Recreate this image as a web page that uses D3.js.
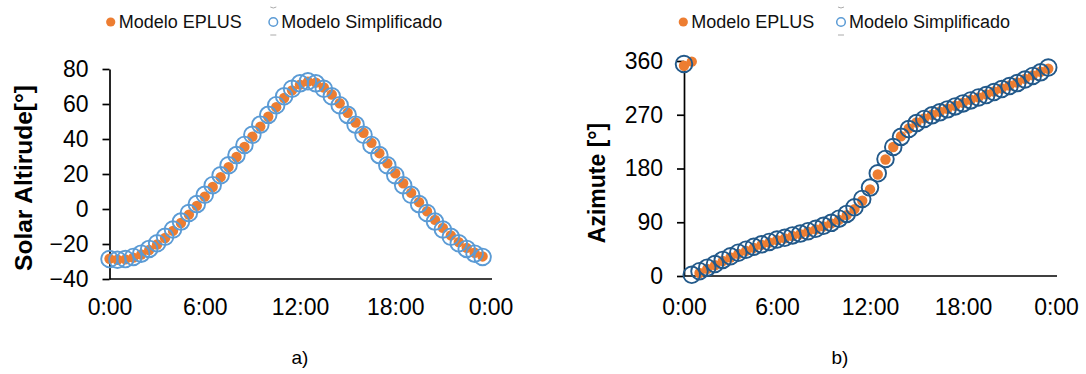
<!DOCTYPE html>
<html>
<head>
<meta charset="utf-8">
<script src="https://cdn.jsdelivr.net/npm/d3@7/dist/d3.min.js"></script>
<style>
    body { margin: 0; background: #fff; }
    svg { display: block; font-family: "Liberation Sans", Arial, sans-serif; }
</style>
</head>
<body>
<svg id="chart" width="1086" height="374"></svg>
<script>
// time of day (hours) for every sample
const hours = [0, 0.5, 1, 1.5, 2, 2.5, 3, 3.5, 4, 4.5, 5, 5.5, 6, 6.5, 7, 7.5, 8, 8.5, 9, 9.5, 10, 10.5, 11, 11.5,
    12, 12.5, 13, 13.5, 14, 14.5, 15, 15.5, 16, 16.5, 17, 17.5, 18, 18.5, 19, 19.5, 20, 20.5, 21, 21.5, 22, 22.5, 23, 23.5];

// a) solar altitude [deg]
const altEplus = [-28.4, -29.0, -28.8, -27.8, -26.0, -23.4, -20.3, -16.6, -12.5, -8.0, -3.2, 1.8, 7.1, 12.6, 18.2, 23.9,
    29.7, 35.5, 41.3, 47.1, 52.7, 58.2, 63.4, 67.8, 71.1, 72.8, 72.2, 69.4, 65.4, 60.4, 55.0, 49.4,
    43.6, 37.8, 31.9, 26.1, 20.4, 14.7, 9.2, 3.9, -1.3, -6.2, -10.8, -15.1, -18.9, -22.2, -25.0, -27.1];
const altSimpl = [-28.6, -29.0, -28.6, -27.4, -25.5, -22.8, -19.6, -15.9, -11.7, -7.2, -2.3, 2.8, 8.1, 13.6, 19.3, 25.0,
    30.8, 36.6, 42.4, 48.2, 53.8, 59.3, 64.4, 68.7, 71.8, 73.0, 71.8, 68.7, 64.4, 59.3, 53.8, 48.2,
    42.4, 36.6, 30.8, 25.0, 19.3, 13.6, 8.1, 2.8, -2.3, -7.2, -11.7, -15.9, -19.6, -22.8, -25.5, -27.4];

// b) azimuth [deg]
const azEplus = [352, 359, 5, 12, 18, 25, 31, 37, 42, 47, 52, 56, 60, 63, 67, 70,
    74, 78, 83, 88, 94, 102, 112, 126, 145, 170, 195, 216, 234, 247, 257, 264,
    270, 275, 280, 285, 290, 295, 299, 304, 309, 314, 319, 324, 330, 336, 342, 347];
const azSimpl = [355, 2, 8, 14, 20, 27, 33, 39, 44, 49, 53, 57, 61, 64, 68, 71,
    75, 79, 84, 89, 96, 104, 115, 129, 148, 172, 196, 216, 233, 246, 256, 263,
    269, 274, 279, 284, 289, 294, 299, 303, 308, 313, 318, 323, 329, 335, 341, 349];

const seriesNames = ['Modelo EPLUS', 'Modelo Simplificado'];
const xTicks = [0, 6, 12, 18, 24];
const altTicks = [-40, -20, 0, 20, 40, 60, 80];
const azTicks = [0, 90, 180, 270, 360];

const orange = '#ED7D31';
const lightBlue = '#5B9BD5';
const darkBlue = '#22598A';

const svg = d3.select('#chart');

function drawPanel(opts) {
    const g = svg.append('g');

    const x = d3.scaleLinear().domain([0, 24]).range(opts.xRange);
    const y = d3.scaleLinear().domain(opts.yDomain).range(opts.yRange);

    // y axis with outside ticks
    const yAxis = g.append('g')
        .attr('transform', `translate(${opts.xRange[0]},0)`)
        .call(d3.axisLeft(y).tickValues(opts.yTicks).tickSize(7).tickSizeOuter(0).tickPadding(14));

    // x axis, no tick marks
    const xAxis = g.append('g')
        .attr('transform', `translate(0,${opts.yRange[0]})`)
        .call(d3.axisBottom(x).tickValues(xTicks).tickSize(0).tickSizeOuter(0).tickPadding(opts.xPad)
            .tickFormat(h => (h % 24) + ':00'));

    xAxis.select('.domain').attr('d', `M${opts.xRange[0]},0H${opts.xEnd}`);

    [yAxis, xAxis].forEach(a => {
        a.select('.domain').attr('stroke', '#000').attr('stroke-width', 1.7);
        a.selectAll('line').attr('stroke', '#000').attr('stroke-width', 1.7);
        a.selectAll('text').attr('fill', '#000').style('font-size', '23px')
            .style('font-family', '"Liberation Sans", Arial, sans-serif');
    });

    // series 1 - filled orange dots
    g.append('g').selectAll('circle')
        .data(opts.eplus)
        .join('circle')
        .attr('cx', (d, i) => x(hours[i]))
        .attr('cy', d => y(d))
        .attr('r', 5.2)
        .attr('fill', orange);

    // series 2 - hollow circles on top
    g.append('g').selectAll('circle')
        .data(opts.simpl)
        .join('circle')
        .attr('cx', (d, i) => x(hours[i]))
        .attr('cy', d => y(d))
        .attr('r', 8.3)
        .attr('fill', 'none')
        .attr('stroke', opts.ringColor)
        .attr('stroke-width', 1.9);

    // axis title
    g.append('text')
        .attr('transform', `translate(${opts.titleX},${opts.titleY}) rotate(-90)`)
        .attr('text-anchor', 'middle')
        .style('font-size', opts.titleSize)
        .style('font-weight', 'bold')
        .attr('fill', '#000')
        .text(opts.title);

    // legend
    const lg = g.append('g').attr('transform', `translate(${opts.legendX},22)`);
    lg.append('circle').attr('cx', 0).attr('cy', 0).attr('r', 4.6).attr('fill', orange);
    lg.append('text').attr('x', 8).attr('y', 6.3).style('font-size', '18px').attr('fill', '#111').text(seriesNames[0]);
    lg.append('circle').attr('cx', opts.legendGap).attr('cy', 0).attr('r', 4.3)
        .attr('fill', 'none').attr('stroke', lightBlue).attr('stroke-width', 1.5);
    // little grey marks above / below the ring marker
    lg.append('path').attr('d', `M${opts.legendGap - 3},-15 q3,2 6,0 M${opts.legendGap - 3},13 h6`)
        .attr('fill', 'none').attr('stroke', '#aaa').attr('stroke-width', 1);
    lg.append('text').attr('x', opts.legendGap + 8).attr('y', 6.3).style('font-size', '18px').attr('fill', '#111').text(seriesNames[1]);

    // caption
    g.append('text')
        .attr('x', opts.captionX)
        .attr('y', 364)
        .attr('text-anchor', 'middle')
        .style('font-size', '19px')
        .attr('fill', '#000')
        .text(opts.caption);
}

drawPanel({
    xRange: [109.5, 490.5], xEnd: 492,
    yDomain: [-40, 80], yRange: [279, 69], yTicks: altTicks, xPad: 20,
    eplus: altEplus, simpl: altSimpl, ringColor: lightBlue,
    title: 'Solar Altirude[°]', titleX: 32, titleY: 178, titleSize: '24.5px',
    legendX: 110.7, legendGap: 162.6,
    caption: 'a)', captionX: 300
});

drawPanel({
    xRange: [684, 1056], xEnd: 1057,
    yDomain: [0, 360], yRange: [276, 61], yTicks: azTicks, xPad: 23,
    eplus: azEplus, simpl: azSimpl, ringColor: darkBlue,
    title: 'Azimute [°]', titleX: 605, titleY: 183, titleSize: '23px',
    legendX: 683.3, legendGap: 157.7,
    caption: 'b)', captionX: 840
});
</script>
</body>
</html>
